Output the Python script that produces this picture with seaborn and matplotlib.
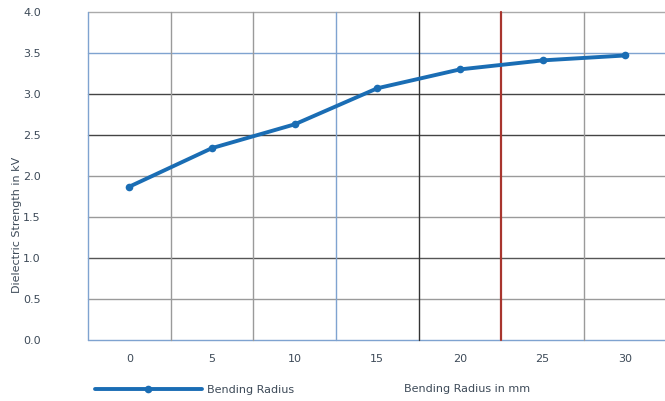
import matplotlib
matplotlib.use("Agg")
import matplotlib.pyplot as plt
import seaborn as sns

# data
bending_radius = ["0", "5", "10", "15", "20", "25", "30"]
dielectric_strength = [1.87, 2.34, 2.63, 3.07, 3.30, 3.41, 3.47]
y_ticks = [0.0, 0.5, 1.0, 1.5, 2.0, 2.5, 3.0, 3.5, 4.0]

# gridline styling (one colour per line, like the original)
blue_grid = "#7fa3d0"
h_colors = [blue_grid, "#9a9a9a", "#555555", "#9a9a9a", "#9a9a9a",
            "#444444", "#444444", blue_grid, "#aaaaaa"]
v_colors = [blue_grid, "#9a9a9a", "#9a9a9a", blue_grid, "#333333",
            "#a8352e", "#9a9a9a"]
text_color = "#3d4a58"
line_color = "#1a6db4"

sns.set_style("white")
plt.rcParams["font.family"] = ["DejaVu Sans"]

fig = plt.figure(figsize=(6.65, 4.01), dpi=100)
ax = fig.add_axes([88 / 665, 61 / 401, 1 - 88 / 665, 328 / 401])

for yv, c in zip(y_ticks, h_colors):
    ax.axhline(yv, color=c, lw=1.0, zorder=1, clip_on=False)
for i, c in enumerate(v_colors):
    lw = 1.6 if c == "#a8352e" else 1.0
    ax.axvline(i - 0.5, color=c, lw=lw, zorder=1, clip_on=False)

sns.lineplot(
    x=bending_radius,
    y=dielectric_strength,
    sort=False,
    marker="o",
    markersize=5.5,
    markeredgewidth=0,
    color=line_color,
    linewidth=2.8,
    label="Bending Radius",
    ax=ax,
    zorder=3,
)

ax.set_xlim(-0.5, 6.48)
ax.set_ylim(0, 4.0)
ax.set_yticks(y_ticks)
ax.set_yticklabels([f"{v:.1f}" for v in y_ticks])
ax.tick_params(axis="y", length=0, pad=34, labelsize=8, labelcolor=text_color)
ax.tick_params(axis="x", length=0, pad=10, labelsize=8, labelcolor=text_color)
for s in ax.spines.values():
    s.set_visible(False)

ax.set_ylabel("Dielectric Strength in kV", fontsize=8, color=text_color)
ax.yaxis.set_label_coords((22 - 88) / 577, 0.35)
ax.set_xlabel("Bending Radius in mm", fontsize=8, color=text_color)
ax.xaxis.set_label_coords((467 - 88) / 577, (340 - 384) / 328)

ax.legend(
    loc="center left",
    bbox_to_anchor=(95 / 665, 1 - 390 / 401),
    bbox_transform=fig.transFigure,
    frameon=False,
    fontsize=8,
    labelcolor=text_color,
    handlelength=9.6,
    handletextpad=0.5,
    borderpad=0,
    borderaxespad=0,
)

fig.savefig("out.png", dpi=100)
